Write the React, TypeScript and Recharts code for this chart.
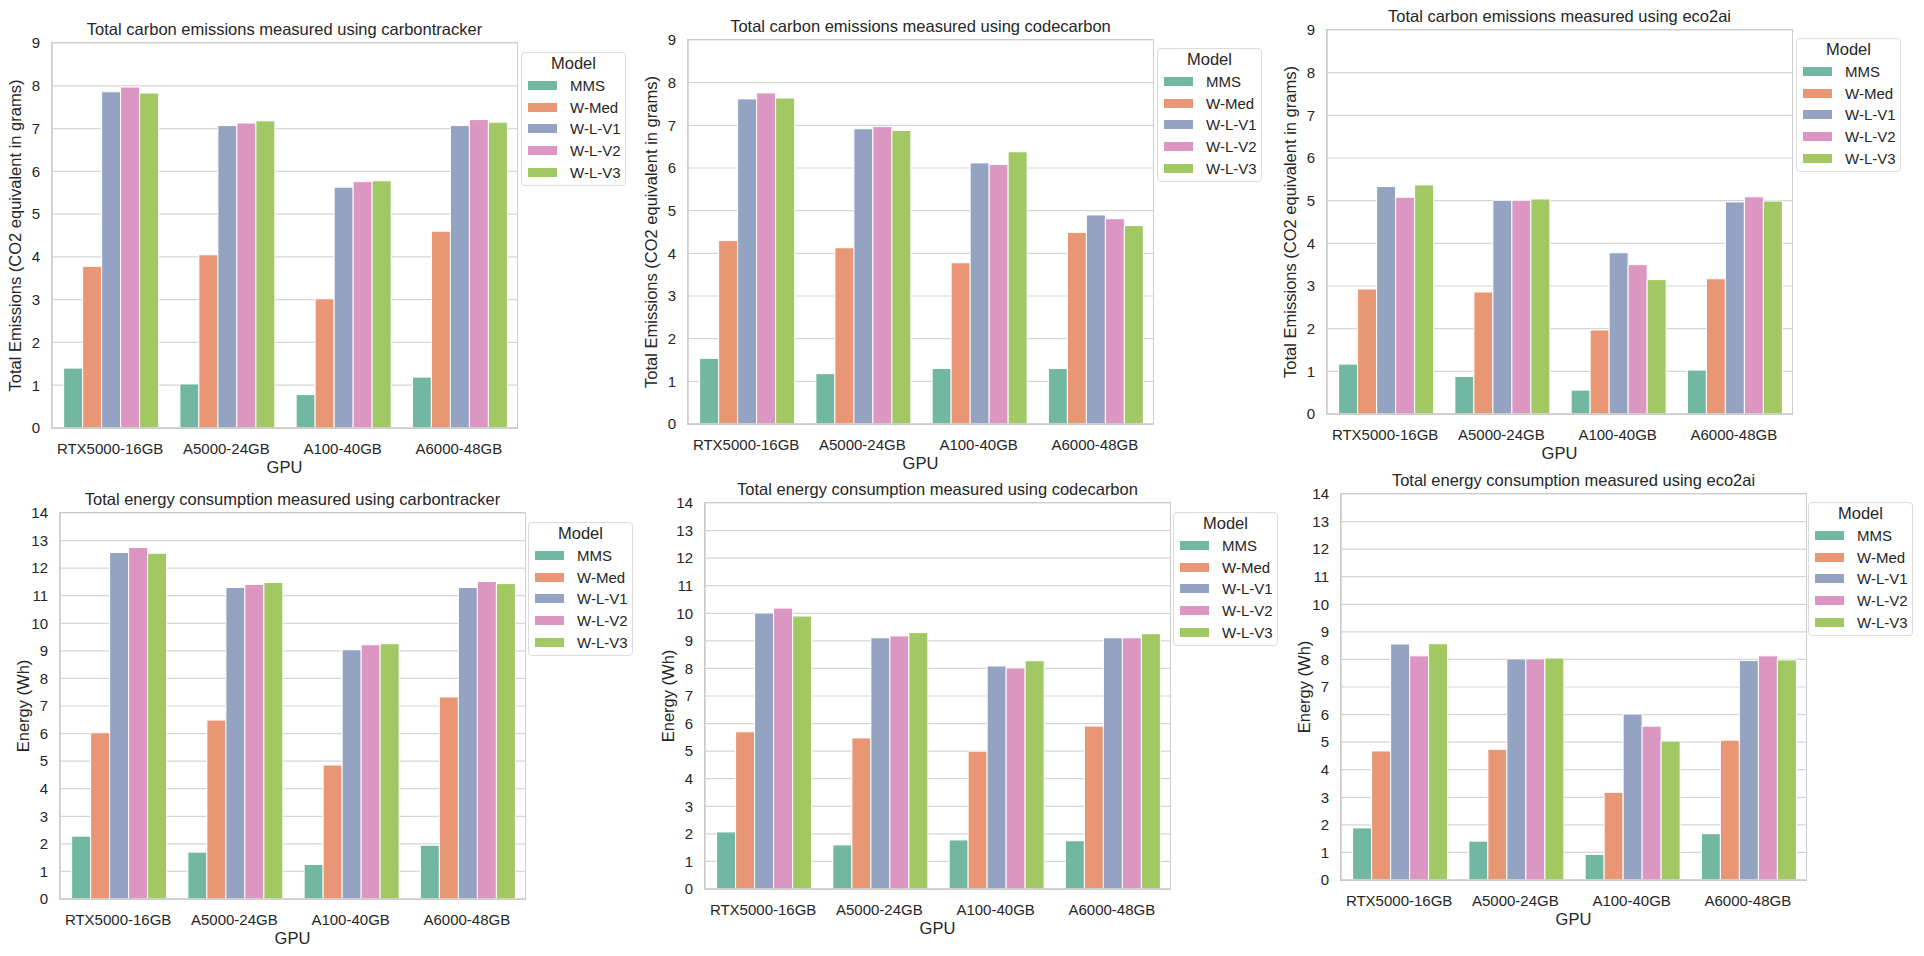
import React from "react";
import { BarChart, Bar, XAxis, YAxis, CartesianGrid } from "recharts";

const gpus = ["RTX5000-16GB", "A5000-24GB", "A100-40GB", "A6000-48GB"];
const models = ["MMS", "W-Med", "W-L-V1", "W-L-V2", "W-L-V3"];
const palette = ["#71b7a1", "#e99675", "#95a3c3", "#db96c1", "#a2c864"];

const emissionTicks = [0, 1, 2, 3, 4, 5, 6, 7, 8, 9];
const energyTicks = [0, 1, 2, 3, 4, 5, 6, 7, 8, 9, 10, 11, 12, 13, 14];

// rows follow `models`, columns follow `gpus`
const emissionsCarbontracker = [
  [1.4, 1.03, 0.78, 1.19],
  [3.78, 4.05, 3.02, 4.6],
  [7.86, 7.07, 5.63, 7.07],
  [7.97, 7.13, 5.76, 7.21],
  [7.83, 7.18, 5.78, 7.15],
];
const emissionsCodecarbon = [
  [1.54, 1.18, 1.3, 1.3],
  [4.3, 4.13, 3.78, 4.49],
  [7.62, 6.92, 6.12, 4.9],
  [7.76, 6.97, 6.08, 4.81],
  [7.64, 6.88, 6.38, 4.65],
];
const emissionsEco2ai = [
  [1.17, 0.88, 0.56, 1.03],
  [2.93, 2.86, 1.97, 3.17],
  [5.33, 5.01, 3.78, 4.97],
  [5.08, 5.01, 3.5, 5.09],
  [5.37, 5.04, 3.15, 4.99],
];
const energyCarbontracker = [
  [2.28, 1.7, 1.25, 1.95],
  [6.03, 6.49, 4.86, 7.33],
  [12.57, 11.3, 9.04, 11.3],
  [12.75, 11.41, 9.22, 11.52],
  [12.54, 11.48, 9.26, 11.44],
];
const energyCodecarbon = [
  [2.07, 1.6, 1.78, 1.75],
  [5.7, 5.48, 5.0, 5.91],
  [10.01, 9.11, 8.09, 9.11],
  [10.19, 9.18, 8.02, 9.11],
  [9.9, 9.3, 8.28, 9.26],
];
const energyEco2ai = [
  [1.89, 1.41, 0.93, 1.68],
  [4.68, 4.74, 3.18, 5.07],
  [8.56, 8.02, 6.02, 7.96],
  [8.13, 8.02, 5.58, 8.13],
  [8.57, 8.05, 5.04, 7.98],
];

const FONT = "'Liberation Sans', Arial, sans-serif";
const INK = "#262626";
const EDGE = "#cccccc";
const YW = 50;
const MT = 10;
const XH = 50;

const toRows = (values: number[][]) =>
  gpus.map((gpu, i) => {
    const row: Record<string, string | number> = { gpu };
    models.forEach((m, j) => {
      row[m] = values[j][i];
    });
    return row;
  });

interface Box {
  x: number;
  y: number;
  w: number;
  h: number;
}

function ModelLegend({ x, y }: { x: number; y: number }) {
  return (
    <div
      style={{
        position: "absolute",
        left: x,
        top: y,
        width: 105,
        height: 134,
        boxSizing: "border-box",
        border: "1px solid #dcdcdc",
        borderRadius: 4,
        background: "rgba(255,255,255,0.8)",
        fontFamily: FONT,
        color: INK,
      }}
    >
      <div style={{ textAlign: "center", fontSize: 16.5, lineHeight: "20px" }}>
        Model
      </div>
      <div style={{ marginTop: 2 }}>
        {models.map((m, i) => (
          <div key={m} style={{ height: 21.6, display: "flex", alignItems: "center" }}>
            <span
              style={{
                marginLeft: 6,
                width: 29,
                height: 9,
                background: palette[i],
                display: "inline-block",
              }}
            />
            <span style={{ marginLeft: 13, fontSize: 15 }}>{m}</span>
          </div>
        ))}
      </div>
    </div>
  );
}

function Panel({
  title,
  ylabel,
  values,
  ticks,
  box,
  legend,
}: {
  title: string;
  ylabel: string;
  values: number[][];
  ticks: number[];
  box: Box;
  legend: { x: number; y: number };
}) {
  const data = toRows(values);
  const ymax = ticks[ticks.length - 1];
  return (
    <>
      <div
        style={{
          position: "absolute",
          left: box.x,
          top: box.y - 24,
          width: box.w,
          textAlign: "center",
          fontFamily: FONT,
          fontSize: 16.5,
          lineHeight: "20px",
          color: INK,
          whiteSpace: "nowrap",
        }}
      >
        {title}
      </div>
      <div style={{ position: "absolute", left: box.x - YW, top: box.y - MT }}>
        <BarChart
          width={YW + box.w}
          height={MT + box.h + XH}
          data={data}
          margin={{ top: MT, right: 0, bottom: 0, left: 0 }}
          barCategoryGap="10%"
          barGap={0}
          style={{ fontFamily: FONT }}
        >
          <CartesianGrid vertical={false} stroke="#d5d5d5" strokeWidth={1.2} />
          <XAxis
            dataKey="gpu"
            height={XH}
            tickLine={false}
            tickMargin={9}
            axisLine={{ stroke: EDGE, strokeWidth: 1.5 }}
            tick={{ fill: INK, fontSize: 15 }}
            interval={0}
            label={{
              value: "GPU",
              position: "insideBottom",
              offset: 5,
              fill: INK,
              fontSize: 16.5,
            }}
          />
          <YAxis
            width={YW}
            domain={[0, ymax]}
            ticks={ticks}
            interval={0}
            tickLine={false}
            tickMargin={6}
            axisLine={{ stroke: EDGE, strokeWidth: 1.5 }}
            tick={{ fill: INK, fontSize: 15 }}
            label={{
              value: ylabel,
              angle: -90,
              position: "insideLeft",
              offset: 13,
              fill: INK,
              fontSize: 16.5,
              style: { textAnchor: "middle" },
            }}
          />
          {models.map((m, i) => (
            <Bar
              key={m}
              dataKey={m}
              fill={palette[i]}
              stroke="#ffffff"
              strokeWidth={1}
              isAnimationActive={false}
            />
          ))}
        </BarChart>
      </div>
      {/* axes frame (seaborn whitegrid spines) */}
      <div
        style={{
          position: "absolute",
          left: box.x - 0.75,
          top: box.y - 0.75,
          width: box.w + 1.5,
          height: box.h + 1.5,
          boxSizing: "border-box",
          border: `1.5px solid ${EDGE}`,
          pointerEvents: "none",
        }}
      />
      <ModelLegend x={legend.x} y={legend.y} />
    </>
  );
}

const EMISSION_LABEL = "Total Emissions (CO2 equivalent in grams)";
const ENERGY_LABEL = "Energy (Wh)";

export default function App() {
  return (
    <div
      style={{
        position: "absolute",
        left: 0,
        top: 0,
        width: 1924,
        height: 956,
        background: "#ffffff",
        overflow: "hidden",
      }}
    >
      <Panel
        title="Total carbon emissions measured using carbontracker"
        ylabel={EMISSION_LABEL}
        values={emissionsCarbontracker}
        ticks={emissionTicks}
        box={{ x: 52, y: 43, w: 465, h: 385 }}
        legend={{ x: 521, y: 52 }}
      />
      <Panel
        title="Total carbon emissions measured using codecarbon"
        ylabel={EMISSION_LABEL}
        values={emissionsCodecarbon}
        ticks={emissionTicks}
        box={{ x: 688, y: 40, w: 465, h: 384 }}
        legend={{ x: 1157, y: 48 }}
      />
      <Panel
        title="Total carbon emissions measured using eco2ai"
        ylabel={EMISSION_LABEL}
        values={emissionsEco2ai}
        ticks={emissionTicks}
        box={{ x: 1327, y: 30, w: 465, h: 384 }}
        legend={{ x: 1796, y: 38 }}
      />
      <Panel
        title="Total energy consumption measured using carbontracker"
        ylabel={ENERGY_LABEL}
        values={energyCarbontracker}
        ticks={energyTicks}
        box={{ x: 60, y: 513, w: 465, h: 386 }}
        legend={{ x: 528, y: 522 }}
      />
      <Panel
        title="Total energy consumption measured using codecarbon"
        ylabel={ENERGY_LABEL}
        values={energyCodecarbon}
        ticks={energyTicks}
        box={{ x: 705, y: 503, w: 465, h: 386 }}
        legend={{ x: 1173, y: 512 }}
      />
      <Panel
        title="Total energy consumption measured using eco2ai"
        ylabel={ENERGY_LABEL}
        values={energyEco2ai}
        ticks={energyTicks}
        box={{ x: 1341, y: 494, w: 465, h: 386 }}
        legend={{ x: 1808, y: 502 }}
      />
    </div>
  );
}
